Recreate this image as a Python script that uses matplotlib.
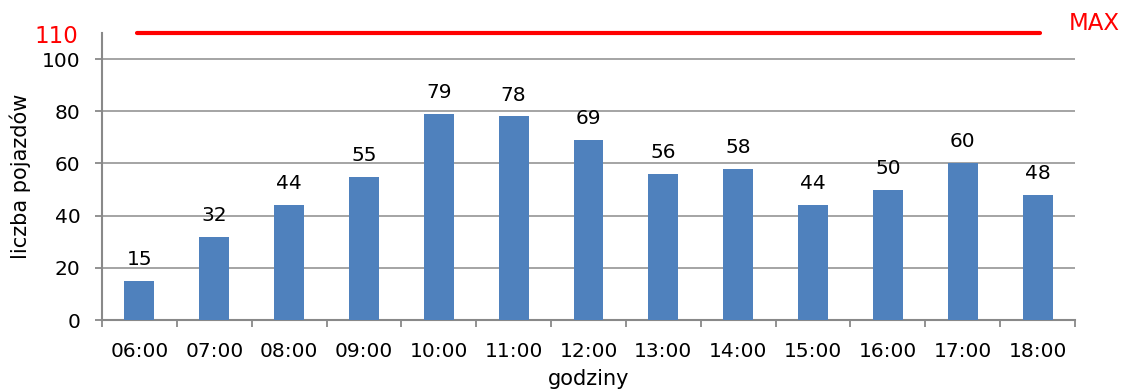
import matplotlib
matplotlib.use("Agg")
import matplotlib.pyplot as plt

hours = ["06:00", "07:00", "08:00", "09:00", "10:00", "11:00", "12:00",
         "13:00", "14:00", "15:00", "16:00", "17:00", "18:00"]
vehicles = [15, 32, 44, 55, 79, 78, 69, 56, 58, 44, 50, 60, 48]
max_value = 110
y_ticks = [0, 20, 40, 60, 80, 100]

plt.rcParams['font.family'] = ['DejaVu Sans']

fig = plt.figure(figsize=(11.23, 3.9), dpi=100)
ax = fig.add_axes([102/1123, 1-320/390, (1075-102)/1123, (320-33)/390])

x = list(range(len(hours)))
ax.bar(x, vehicles, width=0.4, color="#4f81bd", zorder=3)
for xi, v in zip(x, vehicles):
    ax.annotate(str(v), (xi, v), xytext=(0, 11.5), textcoords="offset points",
                ha="center", va="baseline", fontsize=14.5, color="#000000")

ax.plot([-0.03, len(hours) - 1 + 0.03], [max_value, max_value], color="#ff0000",
        lw=3, solid_capstyle="round", zorder=4, clip_on=False)

ax.set_xlim(-0.5, len(hours) - 0.5)
ax.set_ylim(0, max_value)
ax.set_yticks(y_ticks)
ax.set_yticklabels([str(t) for t in y_ticks], fontsize=14.5)
ax.set_xticks(x)
ax.set_xticklabels(hours, fontsize=14.5)
ax.set_xticks([i - 0.5 for i in range(len(hours) + 1)], minor=True)
ax.tick_params(axis="x", which="major", length=0, pad=15.5)
ax.tick_params(axis="x", which="minor", length=5, color="#898989", width=1.3)
ax.tick_params(axis="y", length=5, color="#898989", width=1.3, pad=10.5)

ax.grid(axis="y", color="#8c8c8c", lw=1.1, zorder=0)
for s in ["top", "right"]:
    ax.spines[s].set_visible(False)
for s in ["left", "bottom"]:
    ax.spines[s].set_color("#898989")
    ax.spines[s].set_linewidth(1.5)

ax.text(-24/973, max_value - 1.3, str(max_value), transform=ax.get_yaxis_transform(),
        ha="right", va="center", fontsize=16.5, color="#ff0000")
fig.text(1120/1123, 1-23/390, "MAX", ha="right", va="center",
         fontsize=16.5, color="#ff0000")

ax.set_ylabel("liczba pojazdów", fontsize=15, labelpad=8)
ax.set_xlabel("godziny", fontsize=15, labelpad=6)

fig.savefig("out.png", dpi=100)
